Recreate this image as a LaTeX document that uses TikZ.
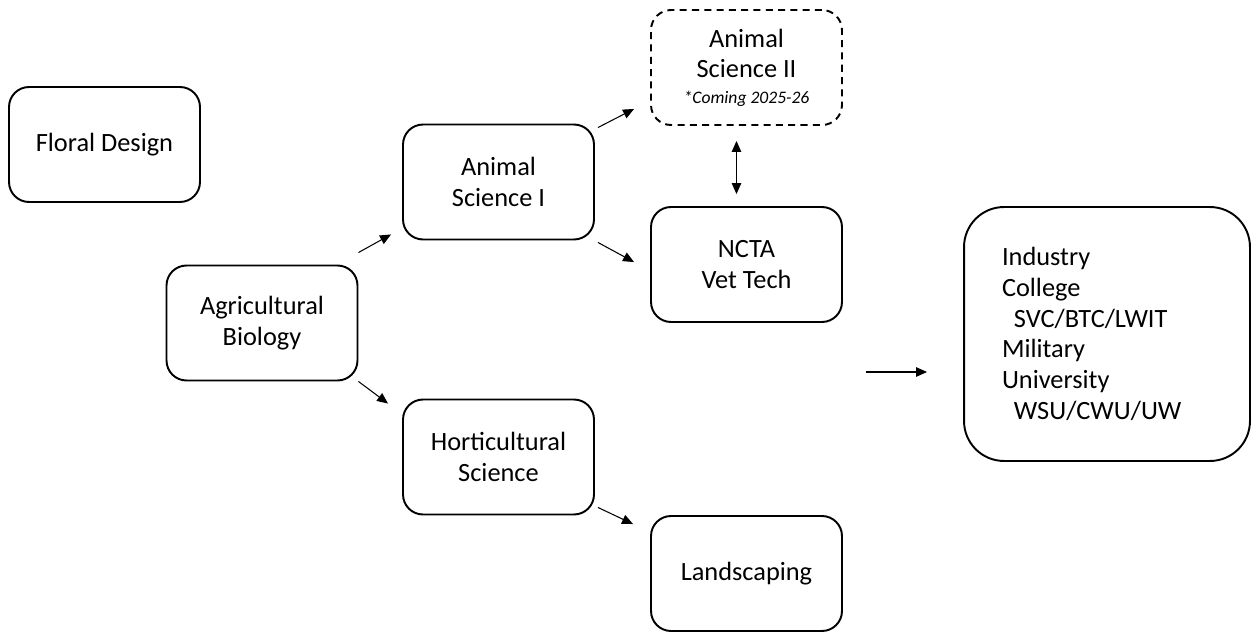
\documentclass[tikz,border=0pt]{standalone}
\usepackage{fontspec}
\setmainfont{Carlito}
\usepackage{tikz}
\usetikzlibrary{arrows.meta}
\newcommand{\notefont}{\fontsize{10}{12}\selectfont\itshape}

\begin{document}
\begin{tikzpicture}[
  x=0.02cm, y=-0.02cm,
  font=\fontsize{15}{17.5}\selectfont,
  box/.style={draw, line width=1.1pt, rounded corners=0.4cm, align=center, minimum width=3.82cm, minimum height=2.3cm, inner sep=2pt},
  soon/.style={box, dashed, dash pattern=on 4pt off 3pt},
  outbox/.style={draw, line width=1.1pt, rounded corners=0.8cm, align=left, text width=4.2cm, minimum width=5.72cm, minimum height=5.08cm, inner sep=0pt},
  arr/.style={-{Triangle[length=2.2mm,width=1.9mm]}, line width=0.6pt},
  darr/.style={{Triangle[length=2.2mm,width=1.9mm]}-{Triangle[length=2.2mm,width=1.9mm]}, line width=0.6pt}
]
\useasboundingbox (0,0) rectangle (1252,632);
\def\xA{104.5}\def\xB{262}\def\xC{498.5}\def\xD{746.5}

% ---------- course boxes ----------
\node[box] (floral) at (\xA,144.5) {Floral Design};
\node[box] (agbio)  at (\xB,323)   {Agricultural\\Biology};
\node[box] (ansci1) at (\xC,182)   {Animal\\Science I};
\node[box] (hort)   at (\xC,457)   {Horticultural\\Science};
\node[soon] (ansci2) at (\xD,67.5) {Animal\\Science II\\[-3pt]{\notefont *Coming 2025-26}};
\node[box] (ncta)   at (\xD,264.5) {NCTA\\Vet Tech};
\node[box] (land)   at (\xD,573.5) {Landscaping};

% ---------- outcomes ----------
\node[outbox] (outc) at (1107,334) {Industry\\College\\\hspace*{0.45em}SVC/BTC/LWIT\\Military\\University\\\hspace*{0.45em}WSU/CWU/UW};
\coordinate (pathend) at (866,372);

% ---------- connectors ----------
\draw[arr] ([shift={(0,-12)}]agbio.north east) -- ([shift={(-11,-6)}]ansci1.south west);
\draw[arr] (agbio.south east) -- ([shift={(-14,5)}]hort.north west);
\draw[arr] ([shift={(3,4)}]ansci1.north east) -- ([shift={(-16,-17)}]ansci2.south west);
\draw[arr] ([shift={(3,2)}]ansci1.south east) -- ([shift={(-16,56)}]ncta.north west);
\draw[arr] ([shift={(3,-8)}]hort.south east) -- ([shift={(-17,9)}]land.north west);
\draw[darr] ([shift={(-10,15)}]ansci2.south) -- ([shift={(-10,-12)}]ncta.north);
\draw[arr] (pathend) -- ([shift={(-36,38)}]outc.west);

\end{tikzpicture}
\end{document}
